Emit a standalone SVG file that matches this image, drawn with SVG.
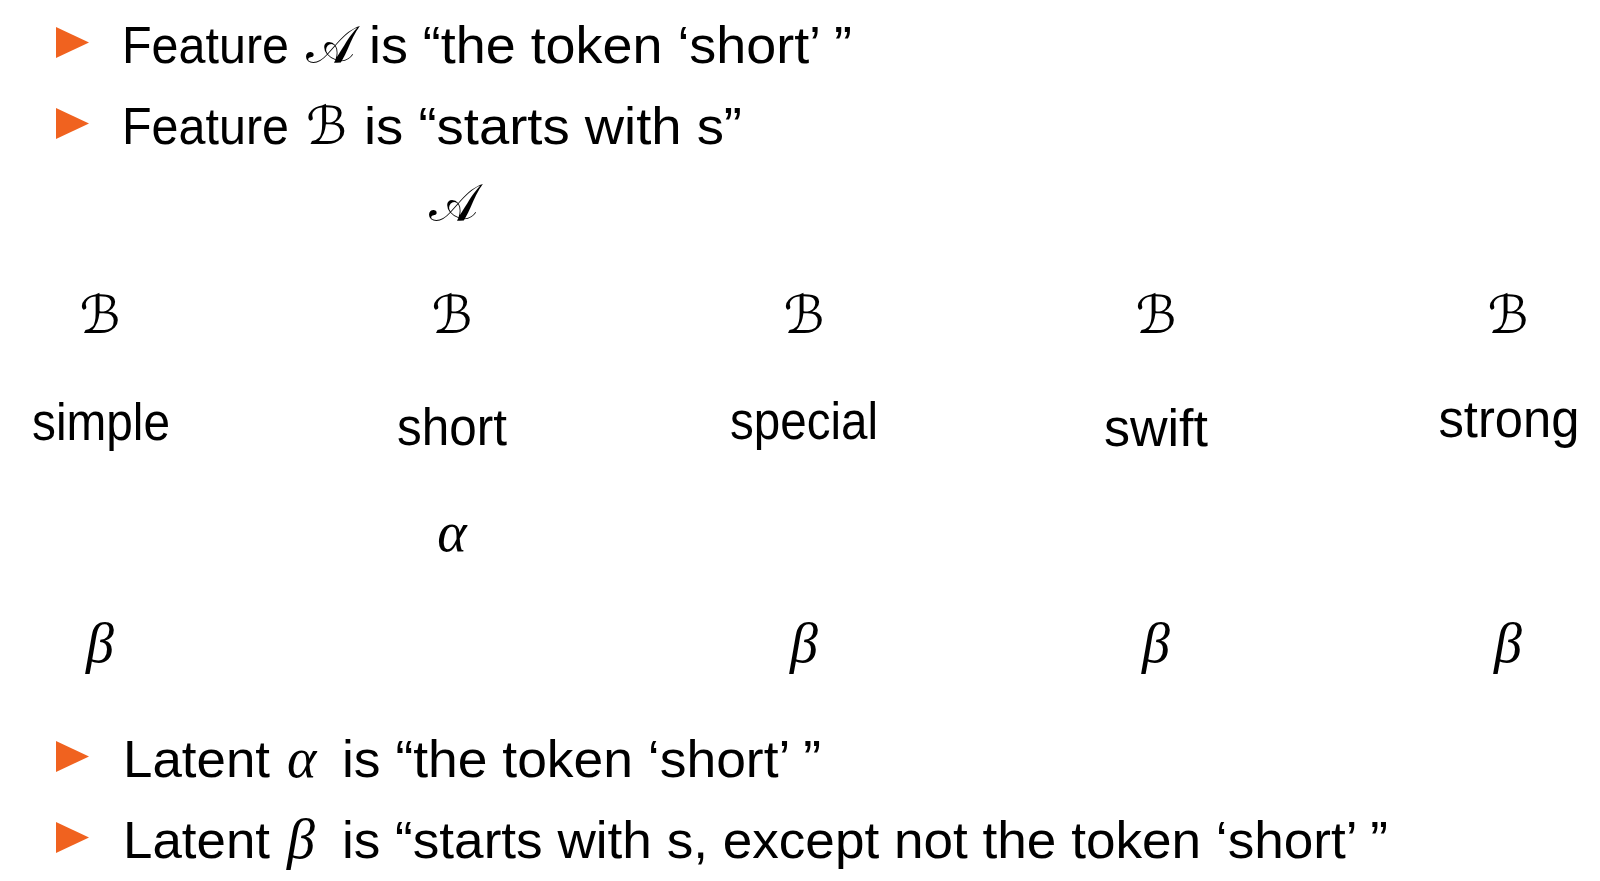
<svg xmlns="http://www.w3.org/2000/svg" width="1600" height="881" viewBox="0 0 1600 881">
<defs>
<style>
.t{font-family:"Liberation Sans","DejaVu Sans",sans-serif;font-size:52px;fill:#000}
.w{font-family:"Liberation Sans","DejaVu Sans",sans-serif;font-size:51px;fill:#000;text-anchor:middle}
.m{font-family:"Liberation Serif","DejaVu Serif",serif;font-style:italic;font-size:56px;fill:#000}
.mc{font-family:"Liberation Serif","DejaVu Serif",serif;font-style:italic;font-size:56px;fill:#000;text-anchor:middle}
.cal{font-family:"DejaVu Serif","DejaVu Sans","Liberation Serif",serif;font-size:52px;fill:#000}
.calc{font-family:"DejaVu Serif","DejaVu Sans","Liberation Serif",serif;font-size:52px;fill:#000;text-anchor:middle}
.bul{fill:#F0621F}
</style>
<polygon id="tri" points="0,0 33,15.5 0,31"/>
</defs>
<rect width="1600" height="881" fill="#fff"/>
<g id="bullets-top">
<use href="#tri" class="bul" x="56" y="27"/>
<text class="t" x="122" y="63" textLength="167" lengthAdjust="spacingAndGlyphs">Feature</text>
<text class="cal" x="306" y="63">𝒜</text>
<text class="t" x="369" y="63" textLength="483" lengthAdjust="spacingAndGlyphs">is “the token ‘short’ ”</text>
<use href="#tri" class="bul" x="56" y="108"/>
<text class="t" x="122" y="144" textLength="167" lengthAdjust="spacingAndGlyphs">Feature</text>
<text class="cal" x="306" y="144">ℬ</text>
<text class="t" x="364" y="144" textLength="378" lengthAdjust="spacingAndGlyphs">is “starts with s”</text>
</g>
<g id="node-A"><text class="calc" x="453" y="221">𝒜</text></g>
<g id="node-B1"><text class="calc" x="100" y="333">ℬ</text></g>
<g id="node-B2"><text class="calc" x="452" y="333">ℬ</text></g>
<g id="node-B3"><text class="calc" x="804" y="333">ℬ</text></g>
<g id="node-B4"><text class="calc" x="1156" y="333">ℬ</text></g>
<g id="node-B5"><text class="calc" x="1508" y="333">ℬ</text></g>
<g id="node-simple"><text class="w" x="101" y="440" textLength="138" lengthAdjust="spacingAndGlyphs">simple</text></g>
<g id="node-short"><text class="w" x="452" y="445" textLength="110" lengthAdjust="spacingAndGlyphs">short</text></g>
<g id="node-special"><text class="w" x="804" y="439" textLength="148" lengthAdjust="spacingAndGlyphs">special</text></g>
<g id="node-swift"><text class="w" x="1156" y="446" textLength="104" lengthAdjust="spacingAndGlyphs">swift</text></g>
<g id="node-strong"><text class="w" x="1509" y="437" textLength="141" lengthAdjust="spacingAndGlyphs">strong</text></g>
<g id="node-alpha"><text class="mc" x="452" y="551">α</text></g>
<g id="node-beta1"><text class="mc" x="100" y="662">β</text></g>
<g id="node-beta3"><text class="mc" x="804" y="662">β</text></g>
<g id="node-beta4"><text class="mc" x="1156" y="662">β</text></g>
<g id="node-beta5"><text class="mc" x="1508" y="662">β</text></g>
<g id="connectors"></g>
<g id="bullets-bottom">
<use href="#tri" class="bul" x="56" y="741"/>
<text class="t" x="123" y="777" textLength="147" lengthAdjust="spacingAndGlyphs">Latent</text>
<text class="m" x="287" y="777">α</text>
<text class="t" x="342" y="777" textLength="479" lengthAdjust="spacingAndGlyphs">is “the token ‘short’ ”</text>
<use href="#tri" class="bul" x="56" y="822"/>
<text class="t" x="123" y="858" textLength="147" lengthAdjust="spacingAndGlyphs">Latent</text>
<text class="m" x="287" y="858">β</text>
<text class="t" x="342" y="858" textLength="1046" lengthAdjust="spacingAndGlyphs">is “starts with s, except not the token ‘short’ ”</text>
</g>
</svg>
